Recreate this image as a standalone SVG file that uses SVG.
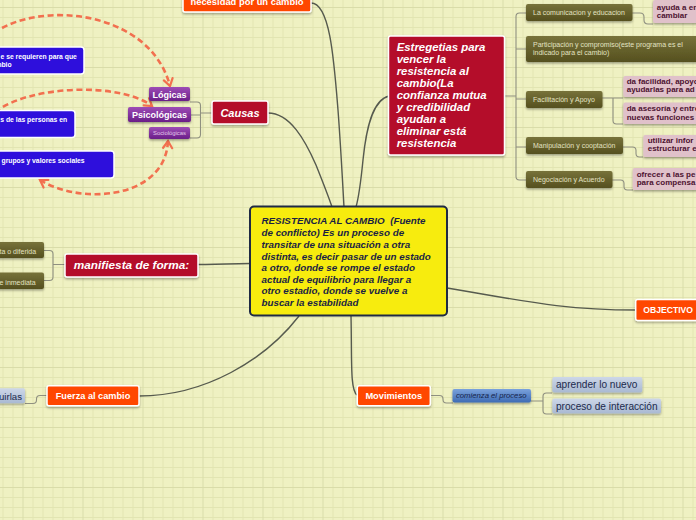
<svg xmlns="http://www.w3.org/2000/svg" width="696" height="520" viewBox="0 0 696 520">
<defs>
<pattern id="grid" x="2.5" y="7" width="60" height="60" patternUnits="userSpaceOnUse">
<path d="M0,0.5H60M0,10.5H60M0,20.5H60M0,30.5H60M0,40.5H60M0,50.5H60M0.5,0V60M10.5,0V60M20.5,0V60M30.5,0V60M40.5,0V60M50.5,0V60" stroke="#e2e5b2" stroke-width="1" fill="none"/>
<path d="M0,0.5H60M20.5,0V60" stroke="#d9dca9" stroke-width="1" fill="none"/>
</pattern>
<linearGradient id="gPurple" x1="0" y1="0" x2="0" y2="1"><stop offset="0" stop-color="#9d4cb6"/><stop offset="1" stop-color="#6a1e88"/></linearGradient>
<linearGradient id="gOlive" x1="0" y1="0" x2="0" y2="1"><stop offset="0" stop-color="#77723a"/><stop offset="1" stop-color="#55501f"/></linearGradient>
<linearGradient id="gLB" x1="0" y1="0" x2="0" y2="1"><stop offset="0" stop-color="#cdd7e8"/><stop offset="1" stop-color="#a9b9d2"/></linearGradient>
<linearGradient id="gBlue" x1="0" y1="0" x2="0" y2="1"><stop offset="0" stop-color="#7aa2dc"/><stop offset="1" stop-color="#3e6bb4"/></linearGradient>
<filter id="sh" x="-10%" y="-10%" width="120%" height="140%"><feDropShadow dx="0" dy="1.5" stdDeviation="0.8" flood-color="#000" flood-opacity="0.35"/></filter>
<marker id="chev" viewBox="0 0 12 12" refX="10" refY="6" markerWidth="12" markerHeight="12" markerUnits="userSpaceOnUse" orient="auto-start-reverse">
<path d="M3,1.5 L10,6 L3,10.5" fill="none" stroke="#f2704f" stroke-width="2.2" stroke-linecap="round"/>
</marker>
<style>
.t{font-family:"Liberation Sans",Arial,sans-serif}
.main{stroke:#565a4e;stroke-width:1.4;fill:none}
.sub{stroke:#8f9080;stroke-width:1.1;fill:none}
.dash{stroke:#f2704f;stroke-width:2.6;fill:none;stroke-dasharray:6 3.5}
.orange{fill:#ff4700;stroke:#fff;stroke-width:1.5}
.crimson{fill:#b4092c;stroke:#fff;stroke-width:1.5}
.blue{fill:#2e0fdc;stroke:#fff;stroke-width:1.5}
.purple{fill:url(#gPurple)}
.olive{fill:url(#gOlive)}
.pink{fill:#e0c1ca}
.lb{fill:url(#gLB)}
.wb{fill:#fff;font-weight:bold}
.wbi{fill:#fff;font-weight:bold;font-style:italic}
.ot{fill:#e3e2c2;font-size:7px}
.pt{fill:#4d1230;font-weight:bold;font-size:8px}
.bt{fill:#fff;font-weight:bold;font-size:6.8px}
.lt{fill:#1c2a4c;font-size:10.1px}
</style>
</defs>
<rect width="696" height="520" fill="#eff1c2"/>
<rect width="696" height="520" fill="url(#grid)"/>

<g id="connectors">
<path class="main" d="M311,3 C330,3 334,60 338,110 C341,150 343,190 344,207"/>
<path class="main" d="M268,113 C290,113 305,140 316,165 C322,180 328,195 332,207"/>
<path class="main" d="M389,96 C372,100 366,130 363,160 C361,180 358,200 356,207"/>
<path class="main" d="M447,288 C520,300 560,310 636,310"/>
<path class="main" d="M250,263.5 C230,264 215,264.5 198,264.5"/>
<path class="main" d="M299,316 C265,360 205,396 139,396"/>
<path class="main" d="M351,316 C352,360 350,390 357,395"/>
<path class="sub" d="M212,113 H200.5 M190,102 H197 Q200.5,102 200.5,105.5 V134.5 Q200.5,138 197,138 H190 M191,115 H200.5"/>
<path class="sub" d="M504,96 H516 M526,13 H519.5 Q516,13 516,16.5 V176.5 Q516,180 519.5,180 H526 M516,49 H526 M516,99 H526 M516,147 H526"/>
<path class="sub" d="M632,13 H640 Q644,13 644,17 V20 Q644,24 648,24 H653"/>
<path class="sub" d="M602,98 H623 M613,98 V120.5 Q613,124 616.5,124 H623"/>
<path class="sub" d="M623,147 H632.5 Q636,147 636,150.5 V153.5 Q636,157 639.5,157 H643"/>
<path class="sub" d="M612,180 H620.5 Q624,180 624,183.5 V186.5 Q624,190 627.5,190 H633"/>
<path class="sub" d="M44,250.5 H49.5 Q53,250.5 53,254 V277 Q53,280.5 49.5,280.5 H44 M53,264.5 H65"/>
<path class="sub" d="M47,395.5 H40 Q36.5,395.5 36.5,399 V400 Q36.5,403.5 33,403.5 H25"/>
<path class="sub" d="M430,395.5 H439.5 Q443,395.5 443,399 V399.5 Q443,403 446.5,403 H453"/>
<path class="sub" d="M531,401 H543 M552,393 H546.5 Q543,393 543,396.5 V410.5 Q543,414 546.5,414 H552"/>
<path class="dash" d="M-6,33 C40,0 150,10 170,86" marker-end="url(#chev)"/>
<path class="dash" d="M-5,112 C30,85 120,82 152,106" marker-end="url(#chev)"/>
<path class="dash" d="M168,141 C165,200 80,205 40,180" marker-start="url(#chev)" marker-end="url(#chev)"/>
</g>

<g id="center">
<rect x="250" y="206.5" width="197" height="109" rx="4" fill="#f7ec0e" stroke="#1f2a44" stroke-width="2"/>
<text class="t" font-size="9.8" font-weight="bold" font-style="italic" fill="#1a1f44" x="261.5">
<tspan x="261.5" y="224">RESISTENCIA AL CAMBIO&#160; (Fuente</tspan>
<tspan x="261.5" y="236">de conflicto) Es un proceso de</tspan>
<tspan x="261.5" y="247.8">transitar de una situación a otra</tspan>
<tspan x="261.5" y="259.6">distinta, es decir pasar de un estado</tspan>
<tspan x="261.5" y="271.2">a otro, donde se rompe el estado</tspan>
<tspan x="261.5" y="282.8">actual de equilibrio para llegar a</tspan>
<tspan x="261.5" y="294.4">otro estadio, donde se vuelve a</tspan>
<tspan x="261.5" y="306">buscar la estabilidad</tspan>
</text>
</g>

<g id="necesidad">
<rect class="orange" x="183" y="-8" width="128" height="20" rx="2" filter="url(#sh)"/>
<text class="t wb" font-size="9.4" x="247" y="5" text-anchor="middle">necesidad por un cambio</text>
</g>

<g id="causas">
<rect class="crimson" x="212" y="101" width="56" height="23" rx="2" filter="url(#sh)"/>
<text class="t wbi" font-size="11" x="240" y="116.7" text-anchor="middle">Causas</text>
</g>

<g id="logicas">
<rect class="purple" x="149" y="87" width="41" height="14" rx="2" filter="url(#sh)"/>
<text class="t wb" font-size="9" x="169.5" y="97.7" text-anchor="middle">Lógicas</text>
</g>
<g id="psicologicas">
<rect class="purple" x="128" y="107" width="63" height="15" rx="2" filter="url(#sh)"/>
<text class="t wb" font-size="9" x="159.5" y="118" text-anchor="middle">Psicológicas</text>
</g>
<g id="sociologicas">
<rect class="purple" x="149" y="127" width="41" height="12" rx="2" filter="url(#sh)"/>
<text class="t" font-size="5.9" fill="#e2c9ea" x="169.5" y="135.2" text-anchor="middle">Sociológicas</text>
</g>

<g id="blue1">
<rect class="blue" x="-5" y="47" width="89" height="27" rx="3"/>
<text class="t bt" x="0.5" y="59.3">e se requieren para que</text>
<text class="t bt" x="-4.6" y="67.3">mbio</text>
</g>
<g id="blue2">
<rect class="blue" x="-5" y="110.5" width="80" height="27" rx="3"/>
<text class="t bt" x="0.3" y="122.3">s de las personas en</text>
</g>
<g id="blue3">
<rect class="blue" x="-5" y="151" width="119" height="27" rx="3"/>
<text class="t bt" x="1.5" y="162.7">grupos y valores sociales</text>
</g>

<g id="estrategias">
<rect class="crimson" x="388.5" y="36" width="116" height="119" rx="2" filter="url(#sh)"/>
<text class="t wbi" font-size="11.4">
<tspan x="396.7" y="50.7">Estregetias para</tspan>
<tspan x="396.7" y="62.7">vencer la</tspan>
<tspan x="396.7" y="74.7">resistencia al</tspan>
<tspan x="396.7" y="86.7">cambio(La</tspan>
<tspan x="396.7" y="98.7">confianza mutua</tspan>
<tspan x="396.7" y="110.7">y credibilidad</tspan>
<tspan x="396.7" y="122.7">ayudan a</tspan>
<tspan x="396.7" y="134.7">eliminar está</tspan>
<tspan x="396.7" y="146.7">resistencia</tspan>
</text>
</g>

<g id="comunicacion">
<rect class="olive" x="526" y="4" width="106.5" height="17" rx="2" filter="url(#sh)"/>
<text class="t ot" x="533" y="14.6">La comunicacion y educacion</text>
</g>
<g id="participacion">
<rect class="olive" x="526" y="36" width="180" height="26" rx="2" filter="url(#sh)"/>
<text class="t ot" x="533" y="47">Participación y compromiso(este programa es el</text>
<text class="t ot" x="533" y="55">indicado para el cambio)</text>
</g>
<g id="facilitacion">
<rect class="olive" x="526" y="91" width="76.5" height="17" rx="2" filter="url(#sh)"/>
<text class="t ot" x="533" y="101.6">Facilitación y Apoyo</text>
</g>
<g id="manipulacion">
<rect class="olive" x="526" y="137" width="97" height="17" rx="2" filter="url(#sh)"/>
<text class="t ot" x="533" y="147.8">Manipulación y cooptación</text>
</g>
<g id="negociacion">
<rect class="olive" x="526" y="171" width="86.5" height="17" rx="2" filter="url(#sh)"/>
<text class="t ot" x="533" y="181.6">Negociación y Acuerdo</text>
</g>

<g id="ayuda">
<rect class="pink" x="653" y="0" width="50" height="23" rx="2" filter="url(#sh)"/>
<text class="t pt" x="656.7" y="9.6">ayuda a en</text>
<text class="t pt" x="656.7" y="18.4">cambiar</text>
</g>
<g id="facilidad">
<rect class="pink" x="623.3" y="76" width="80" height="21" rx="2" filter="url(#sh)"/>
<text class="t pt" x="626.7" y="84">da facilidad, apoyo</text>
<text class="t pt" x="626.7" y="92.2">ayudarlas para ad</text>
</g>
<g id="asesoria">
<rect class="pink" x="623.3" y="102.5" width="80" height="21.5" rx="2" filter="url(#sh)"/>
<text class="t pt" x="626.7" y="111.3">da asesoría y entre</text>
<text class="t pt" x="626.7" y="119.5">nuevas funciones</text>
</g>
<g id="utilizar">
<rect class="pink" x="643.3" y="135" width="60" height="22" rx="2" filter="url(#sh)"/>
<text class="t pt" x="647.7" y="143.2">utilizar infor</text>
<text class="t pt" x="647.7" y="151.4">estructurar e</text>
</g>
<g id="ofrecer">
<rect class="pink" x="632.7" y="168" width="70" height="22" rx="2" filter="url(#sh)"/>
<text class="t pt" x="636.7" y="176.5">ofrecer a las pe</text>
<text class="t pt" x="636.7" y="184.7">para compensa</text>
</g>

<g id="objectivo">
<rect class="orange" x="635.7" y="299.5" width="70" height="21" rx="2" filter="url(#sh)"/>
<text class="t wb" font-size="8.6" x="643.3" y="313">OBJECTIVO</text>
</g>

<g id="manifiesta">
<rect class="crimson" x="65" y="254" width="133" height="23" rx="2" filter="url(#sh)"/>
<text class="t wbi" font-size="11.8" x="131.5" y="268.8" text-anchor="middle">manifiesta de forma:</text>
</g>
<g id="diferida">
<rect class="olive" x="-5" y="242" width="49" height="16" rx="2" filter="url(#sh)"/>
<text class="t ot" x="-0.5" y="253.5">ta o diferida</text>
</g>
<g id="inmediata">
<rect class="olive" x="-5" y="272.5" width="49" height="16.5" rx="2" filter="url(#sh)"/>
<text class="t ot" x="-0.5" y="284.5">e inmediata</text>
</g>

<g id="fuerza">
<rect class="orange" x="47" y="385.7" width="92" height="20" rx="2" filter="url(#sh)"/>
<text class="t wb" font-size="9.2" x="93" y="399" text-anchor="middle">Fuerza al cambio</text>
</g>
<g id="uirlas">
<rect class="lb" x="-5" y="388.3" width="30" height="15" rx="2" filter="url(#sh)"/>
<text class="t" font-size="9.6" fill="#1c2a4c" x="-1" y="399.5">uirlas</text>
</g>

<g id="movimientos">
<rect class="orange" x="357.3" y="385.7" width="73" height="20" rx="2" filter="url(#sh)"/>
<text class="t wb" font-size="9.3" x="393.8" y="399" text-anchor="middle">Movimientos</text>
</g>
<g id="comienza">
<rect x="452.5" y="389" width="78.5" height="13.5" rx="2" fill="url(#gBlue)" filter="url(#sh)"/>
<text class="t" font-size="7.7" font-style="italic" fill="#15244a" x="456" y="398.3">comienza el proceso</text>
</g>
<g id="aprender">
<rect class="lb" x="552.3" y="377" width="90" height="15.5" rx="2" filter="url(#sh)"/>
<text class="t lt" x="556" y="388.3">aprender lo nuevo</text>
</g>
<g id="interaccion">
<rect class="lb" x="552.3" y="398.5" width="108.7" height="15" rx="2" filter="url(#sh)"/>
<text class="t lt" x="556" y="409.6">proceso de interacción</text>
</g>
</svg>
